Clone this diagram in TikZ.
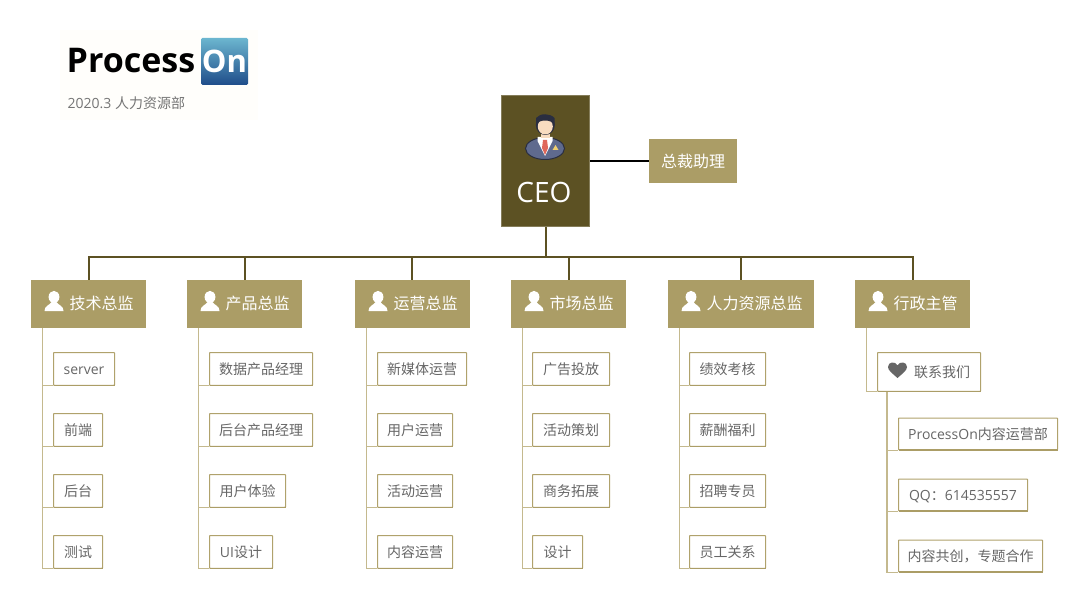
\documentclass[tikz,border=0pt]{standalone}
\usepackage{fontspec}
\setmainfont{Open Sans}
\newfontfamily\cjk{Noto Sans CJK SC}
\usetikzlibrary{calc}
\definecolor{darkolive}{HTML}{5C5123}
\definecolor{gold}{HTML}{AB9D66}
\definecolor{goldline}{HTML}{B0A26C}
\definecolor{stemline}{HTML}{C4B98E}
\definecolor{greytext}{HTML}{666666}
\definecolor{logobg}{HTML}{FFFEFB}
\definecolor{logotop}{HTML}{6CB6CF}
\definecolor{logobot}{HTML}{1F4D8A}
\definecolor{suitcol}{HTML}{5F6A8E}
\definecolor{haircol}{HTML}{2A2E40}
\definecolor{tiecol}{HTML}{E0675A}
\definecolor{pincol}{HTML}{F0D070}
\definecolor{skincol}{HTML}{F8DCC0}
\tikzset{
  ceobox/.style={draw=darkolive!75!white,line width=.8pt,fill=darkolive,minimum width=88.4pt,minimum height=131.4pt,anchor=north west,inner sep=0pt},
  headbox/.style={fill=gold,anchor=north west,inner sep=0pt,text=white,minimum height=48pt,text height=14pt,text depth=4pt,font=\fontsize{16}{18}\selectfont\cjk,align=left},
  kidbox/.style={draw=goldline,line width=1pt,rounded corners=.6pt,fill=white,anchor=north west,inner sep=0pt,text=greytext,text height=13pt,text depth=2.4pt,font=\fontsize{14}{16}\selectfont\cjk},
  kidbase/.style={draw=gold,line width=1.6pt},
  busline/.style={draw=darkolive,line width=2pt},
  blackline/.style={draw=black,line width=2pt},
  treeline/.style={draw=stemline,line width=1.3pt},
  person/.pic={
    \fill[white] (0,-2) ellipse (5.4 and 6.2);
    \fill[white] (-9.5,12) .. controls (-9.5,7) and (-5,6.5) .. (-2.5,3) -- (2.5,3) .. controls (5,6.5) and (9.5,7) .. (9.5,12) -- cycle;
  }
}
\newcommand{\kid}[6]{%
  \node[kidbox,minimum width={#4pt-1pt},minimum height={#5pt-1.2pt}] (#1) at (#2,#3) {#6};
  \draw[kidbase] ([xshift=.5pt,yshift=.3pt]#1.south west) -- ([xshift=-.2pt,yshift=.3pt]#1.south east);
}
\newcommand{\head}[5]{% name, x, width, text, drop x
  \node[headbox,minimum width=#3pt,text width=#3pt] (#1) at (#2,280) {\hspace*{38.5pt}#4};
  \pic at (#2+23,299) {person};
  \coordinate (#1drop) at (#5,257);
  \draw[busline] (#1drop) -- (#1drop |- #1.north);
}
\begin{document}
\begin{tikzpicture}[x=1pt,y=-1pt]
\useasboundingbox (0,0) rectangle (1090,604);
\fill[white] (0,0) rectangle (1090,604);
% logo
\fill[logobg] (60,30) rectangle (258,120);
\shade[top color=logotop,bottom color=logobot,rounded corners=1.5pt] (201,38) rectangle (248,85);
\node[anchor=base west,inner sep=0pt,font=\fontsize{34}{40}\selectfont\bfseries,text=black] (logoa) at (66.5,73) {Process};
\node[anchor=base,inner sep=0pt,font=\fontsize{31}{40}\selectfont\bfseries,text=white] (logob) at (224.5,73) {On};
\node[anchor=base west,inner sep=0pt,font=\fontsize{14}{16}\selectfont,text=greytext!90!white] (logoc) at (67.5,109) {2020.3 {\cjk 人力资源部}};
% CEO
\node[ceobox] (ceo) at (501,95) {};
\node[anchor=base,inner sep=0pt,text=white,font=\fontsize{28}{32}\selectfont] (ceot) at (544,203) {CEO};
\filldraw[fill=suitcol,draw=haircol,line width=1pt] (545,148.5) ellipse (19.5 and 11);
\fill[white] (537.5,137) -- (552.5,137) -- (552.5,141) -- (545,156) -- (537.5,141) -- cycle;
\fill[tiecol] (543,140) -- (547,140) -- (548,148) -- (545,155) -- (542,148) -- cycle;
\fill[pincol] (555.5,145) -- (558.5,150) -- (552.5,150) -- cycle;
\fill[skincol] (541,130) rectangle (550,138);
\fill[haircol] (545.3,125) ellipse (9.5 and 10);
\fill[skincol] (545.3,126.5) ellipse (7.5 and 8);
\fill[haircol] (536,125) .. controls (538,119) and (552,119) .. (554.5,125) -- (554.5,118) .. controls (550,113) and (540,113) .. (536,118) -- cycle;
% assistant
\node[anchor=north west,fill=gold,inner sep=0pt,text=white,minimum width=88pt,minimum height=44pt,font=\fontsize{16}{18}\selectfont\cjk] (asst) at (649,139) {总裁助理};
\draw[blackline] (ceo.east |- asst.west) -- (asst.west);
% bus
\coordinate (busl) at (88,257);
\coordinate (busr) at (914,257);
\coordinate (busc) at (546,257);
\draw[busline] (busl) -- (busr);
\draw[busline] (busc |- ceo.south) -- (busc);
% heads
\head{h1}{31}{115}{技术总监}{89}
\head{h2}{187}{115}{产品总监}{245}
\head{h3}{355}{115}{运营总监}{412}
\head{h4}{511}{115}{市场总监}{569}
\head{h5}{668}{146}{人力资源总监}{741}
\head{h6}{855}{115}{行政主管}{913}
% column 1
\kid{a1}{53}{352}{62}{34}{{\fontspec{Open Sans}server}}
\kid{a2}{53}{413}{50}{34}{前端}
\kid{a3}{53}{474}{50}{34}{后台}
\kid{a4}{53}{535}{50}{34}{测试}
% column 2
\kid{b1}{209}{352}{104}{34}{数据产品经理}
\kid{b2}{209}{413}{104}{34}{后台产品经理}
\kid{b3}{209}{474}{77}{34}{用户体验}
\kid{b4}{209}{535}{64}{34}{{\fontspec{Open Sans}UI}设计}
% column 3
\kid{c1}{377}{352}{90}{34}{新媒体运营}
\kid{c2}{377}{413}{76}{34}{用户运营}
\kid{c3}{377}{474}{76}{34}{活动运营}
\kid{c4}{377}{535}{76}{34}{内容运营}
% column 4
\kid{d1}{532}{352}{78}{34}{广告投放}
\kid{d2}{532}{413}{78}{34}{活动策划}
\kid{d3}{532}{474}{78}{34}{商务拓展}
\kid{d4}{532}{535}{51}{34}{设计}
% column 5
\kid{e1}{689}{352}{77}{34}{绩效考核}
\kid{e2}{689}{413}{77}{34}{薪酬福利}
\kid{e3}{689}{474}{77}{34}{招聘专员}
\kid{e4}{689}{535}{77}{34}{员工关系}
% column 6
\kid{f0}{877}{352}{104}{40}{\hspace*{26pt}联系我们}
\fill[greytext] (897.5,378) .. controls (892.5,373.5) and (888,370.5) .. (888,367) .. controls (888,361.5) and (895.5,361) .. (897.5,365.5) .. controls (899.5,361) and (907,361.5) .. (907,367) .. controls (907,370.5) and (902.5,373.5) .. (897.5,378) -- cycle;
\kid{f1}{898}{417.5}{160}{33}{{\fontspec{Open Sans}ProcessOn}内容运营部}
\kid{f2}{898}{478.5}{130}{33}{{\fontspec{Open Sans}QQ}：{\fontspec{Open Sans}614535557}}
\kid{f3}{898}{539.5}{145}{33}{内容共创，专题合作}
% trees
\foreach \p/\k in {h1/a1,h1/a2,h1/a3,h1/a4,h2/b1,h2/b2,h2/b3,h2/b4,h3/c1,h3/c2,h3/c3,h3/c4,h4/d1,h4/d2,h4/d3,h4/d4,h5/e1,h5/e2,h5/e3,h5/e4,h6/f0}{
  \draw[treeline] ([xshift=11.5pt]\p.south west) |- (\k.south west);
}
\foreach \k in {f1,f2,f3}{
  \draw[treeline] ([xshift=10pt]f0.south west) |- (\k.south west);
}
\end{tikzpicture}
\end{document}
